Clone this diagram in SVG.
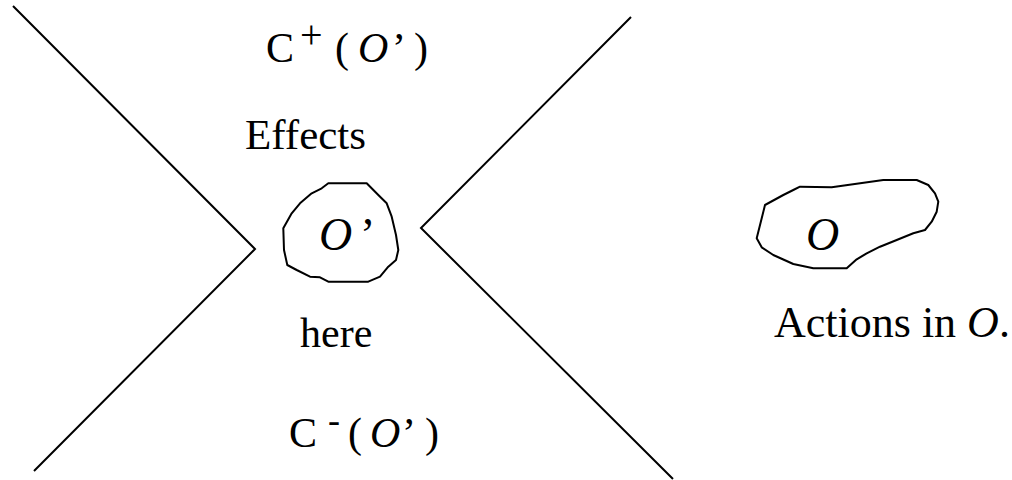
<svg xmlns="http://www.w3.org/2000/svg" width="1012" height="480" viewBox="0 0 1012 480">
<style>
.ln{fill:none;stroke:#000;stroke-width:2;stroke-linejoin:miter}
.bl{fill:none;stroke:#000;stroke-width:2;stroke-linejoin:round}
text{font-family:"Liberation Serif","Times New Roman",serif;fill:#000}
.s42{font-size:42px}
.s43{font-size:43px}
.s44{font-size:44px}
.s46{font-size:46px}
.plus{font-size:40px}
.minus{font-size:36px}
.it{font-style:italic}
</style>
<rect width="1012" height="480" fill="#fff"/>
<g id="connectors">
<polyline class="ln" points="13,6 255,249 34,471"/>
<polyline class="ln" points="631,17 421,228 673,479"/>
</g>
<g id="c-plus">
<text x="266" y="62" class="s42">C</text>
<text x="300" y="48" class="plus">+</text>
<text x="335" y="62" class="s42">(</text>
<text x="358" y="62" class="s42 it">O</text>
<text x="392" y="62" class="s42">’</text>
<text x="414" y="62" class="s42">)</text>
</g>
<g id="effects"><text x="245" y="149" class="s43">Effects</text></g>
<g id="o-prime">
<polygon class="bl" points="328.3,183.3 366.7,183.3 378.3,195 386.7,203.3 391.7,216.7 396,235 398.3,250 396,260 388.3,266.7 380,276.7 368.3,281.7 328.3,281.7 320,277.3 310,276.7 296.7,270 287.3,265 284,250 283.3,228.3 291.7,213.3 300,203.3 311.7,193.3 321.7,188.3"/>
<text x="319" y="250" class="s46 it">O</text>
<text x="360" y="250" class="s46">’</text>
</g>
<g id="here"><text x="300" y="347" class="s42">here</text></g>
<g id="c-minus">
<text x="289" y="447" class="s42">C</text>
<text x="328" y="432" class="minus">-</text>
<text x="348" y="447" class="s42">(</text>
<text x="370" y="447" class="s42 it">O</text>
<text x="402" y="447" class="s42">’</text>
<text x="425" y="447" class="s42">)</text>
</g>
<g id="o-node">
<polygon class="bl" points="800,186.7 831.7,187.3 883.3,180 916.7,180 928.3,185 935,193.3 938.3,201.7 936.7,211.7 931.7,221.7 925,230 913.3,233.3 896.7,240 880,246.7 866.7,253.3 856.7,259.3 846.7,268.3 813.3,268.3 793.3,264 773.3,255 761.7,247.3 756.7,238.3 765,205 783.3,195 793.3,190"/>
<text x="806" y="250" class="s46 it">O</text>
</g>
<g id="actions"><text x="774" y="337" class="s44">Actions in <tspan class="it">O</tspan>.</text></g>
</svg>
